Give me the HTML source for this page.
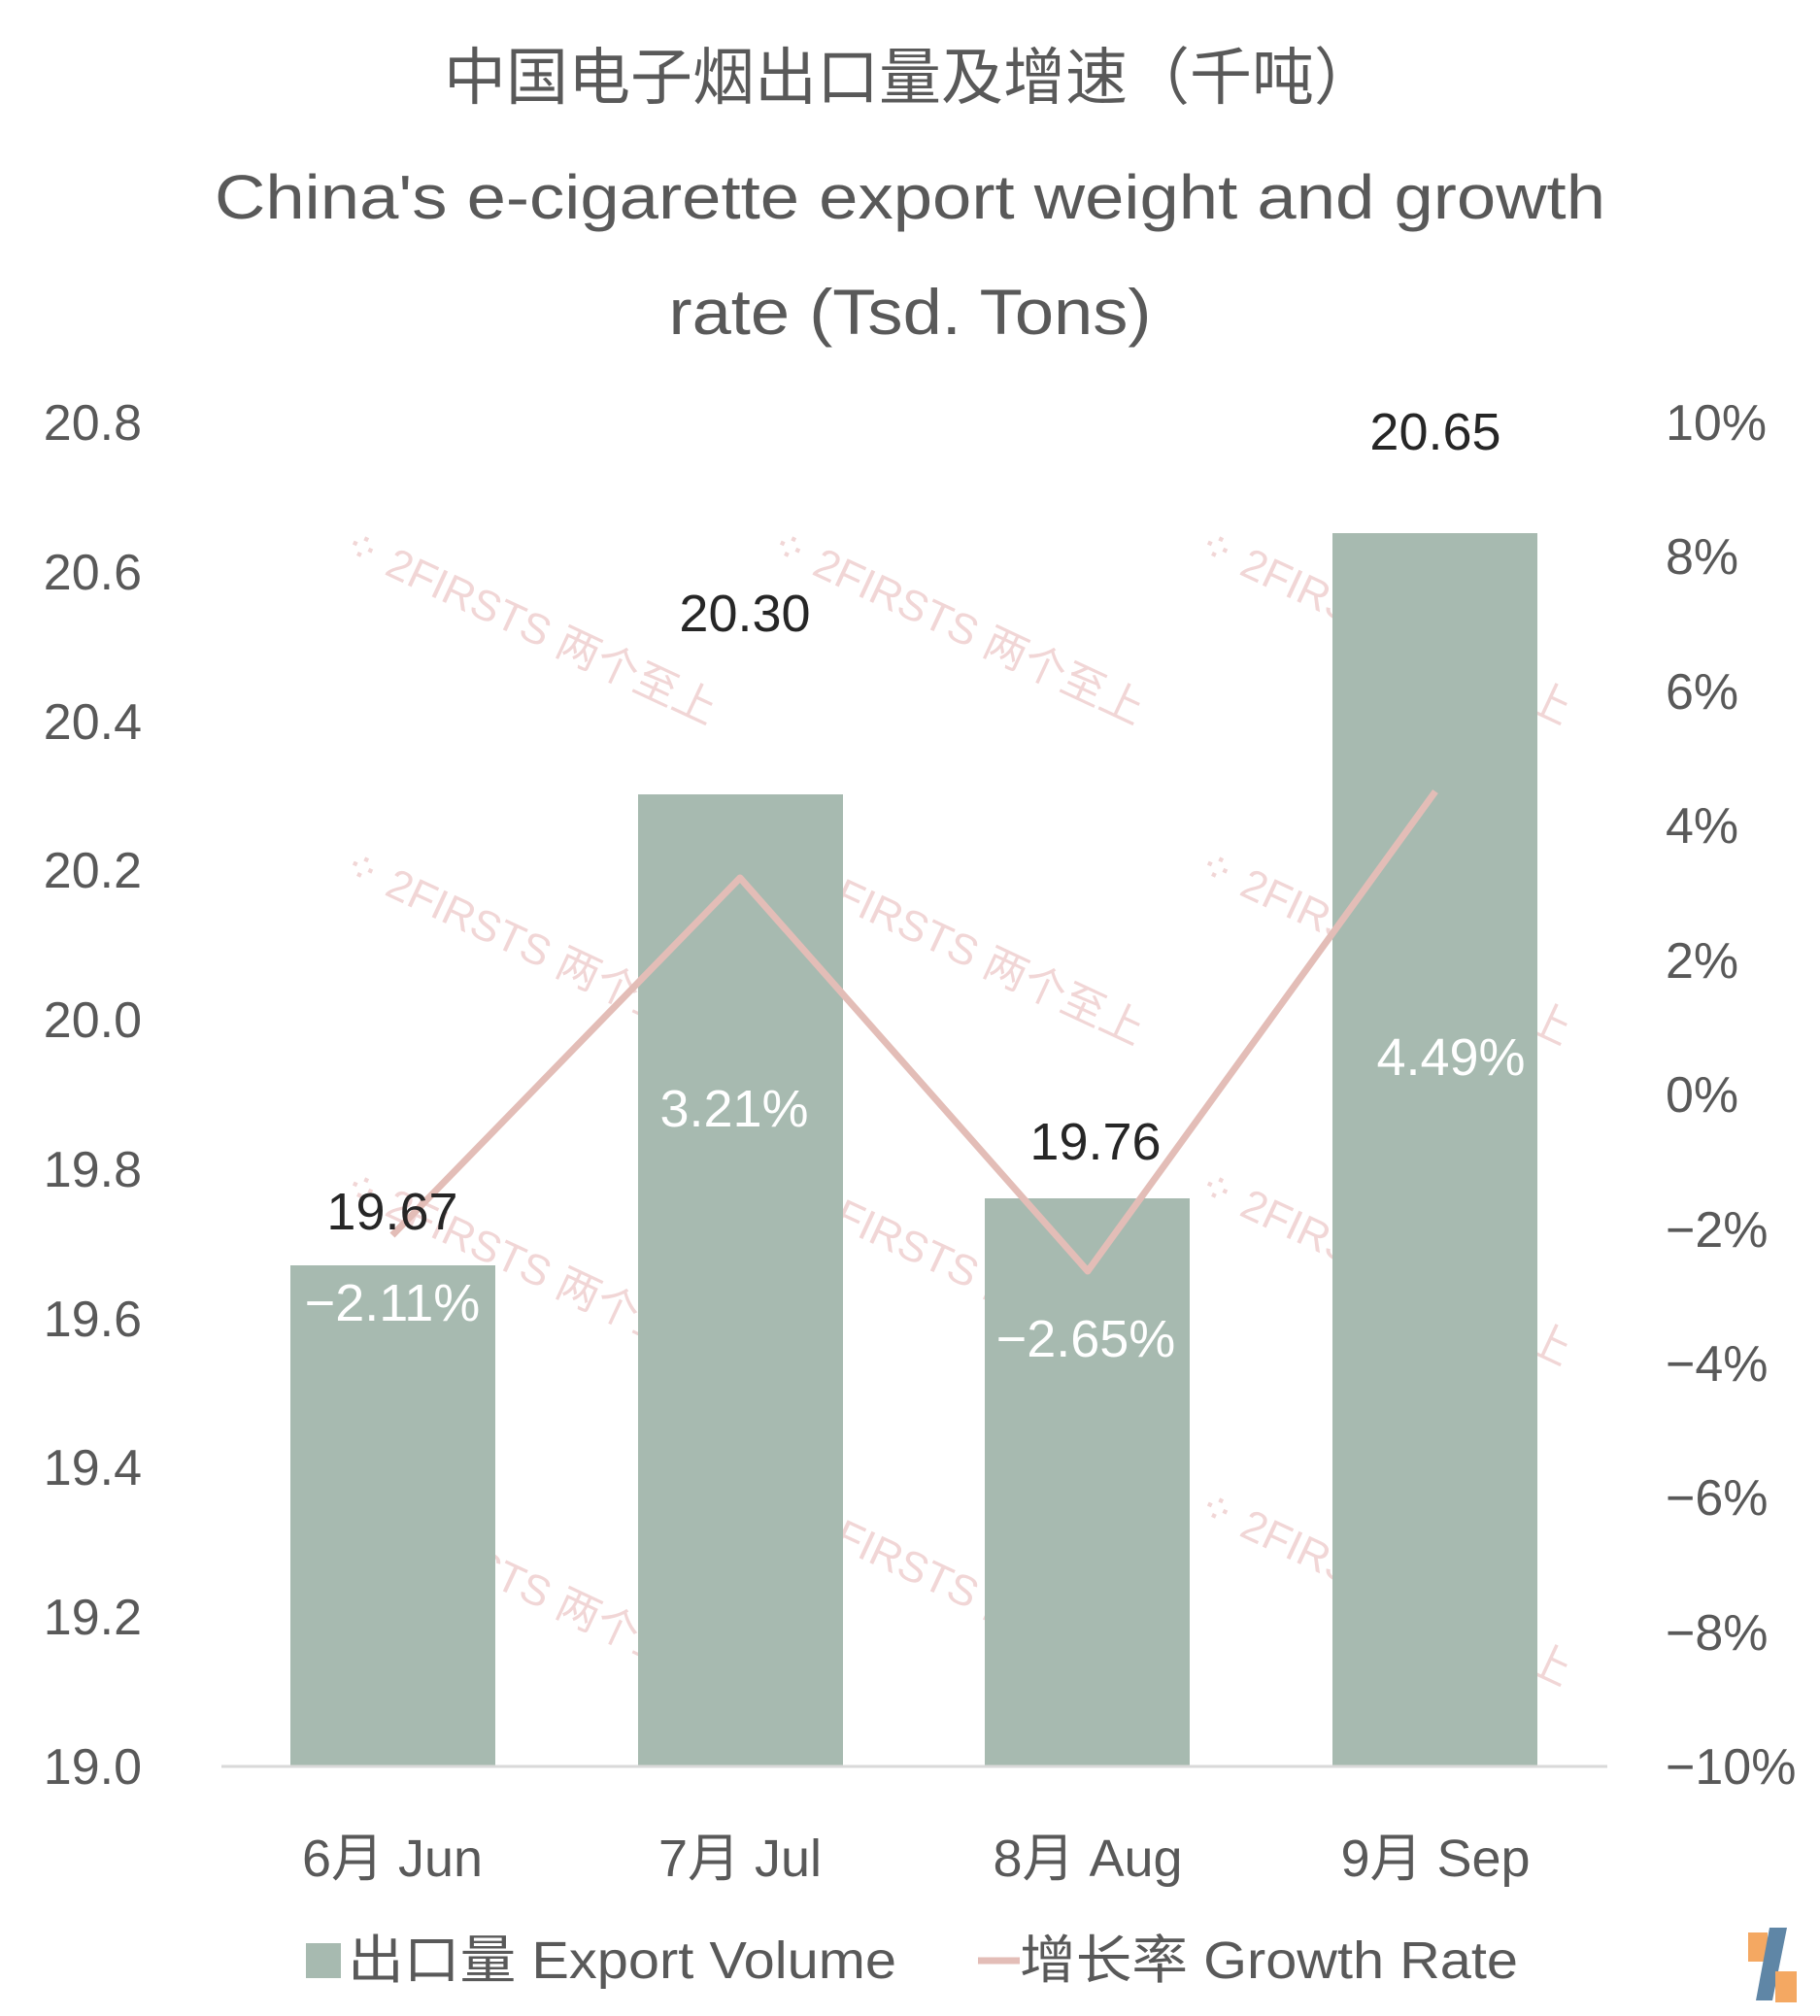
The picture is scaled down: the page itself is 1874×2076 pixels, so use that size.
<!DOCTYPE html>
<html><head><meta charset="utf-8"><style>
html,body{margin:0;padding:0;background:#fff;}
svg{display:block;}
text{font-family:"Liberation Sans","Noto Sans CJK SC",sans-serif;}
</style></head><body>
<svg width="1874" height="2076" viewBox="0 0 1874 2076" xmlns="http://www.w3.org/2000/svg">
<rect width="1874" height="2076" fill="#fff"/>
<g fill="#f0d2d2" font-size="44" opacity="0.9">
<g transform="translate(350,570) rotate(25)"><text x="0" y="0">⁘ 2FIRSTS 两个至上</text></g>
<g transform="translate(790,570) rotate(25)"><text x="0" y="0">⁘ 2FIRSTS 两个至上</text></g>
<g transform="translate(1230,570) rotate(25)"><text x="0" y="0">⁘ 2FIRSTS 两个至上</text></g>
<g transform="translate(350,900) rotate(25)"><text x="0" y="0">⁘ 2FIRSTS 两个至上</text></g>
<g transform="translate(790,900) rotate(25)"><text x="0" y="0">⁘ 2FIRSTS 两个至上</text></g>
<g transform="translate(1230,900) rotate(25)"><text x="0" y="0">⁘ 2FIRSTS 两个至上</text></g>
<g transform="translate(350,1230) rotate(25)"><text x="0" y="0">⁘ 2FIRSTS 两个至上</text></g>
<g transform="translate(790,1230) rotate(25)"><text x="0" y="0">⁘ 2FIRSTS 两个至上</text></g>
<g transform="translate(1230,1230) rotate(25)"><text x="0" y="0">⁘ 2FIRSTS 两个至上</text></g>
<g transform="translate(350,1560) rotate(25)"><text x="0" y="0">⁘ 2FIRSTS 两个至上</text></g>
<g transform="translate(790,1560) rotate(25)"><text x="0" y="0">⁘ 2FIRSTS 两个至上</text></g>
<g transform="translate(1230,1560) rotate(25)"><text x="0" y="0">⁘ 2FIRSTS 两个至上</text></g>
</g>
<g fill="#595959" text-anchor="middle">
<text x="937" y="102" font-size="64" textLength="960" lengthAdjust="spacingAndGlyphs">中国电子烟出口量及增速（千吨）</text>
<text x="937" y="225" font-size="64" textLength="1432" lengthAdjust="spacingAndGlyphs">China's e-cigarette export weight and growth</text>
<text x="937" y="344" font-size="66" textLength="497" lengthAdjust="spacingAndGlyphs">rate (Tsd. Tons)</text>
</g>
<g fill="#595959" font-size="52" text-anchor="end">
<text x="146" y="453">20.8</text>
<text x="146" y="607">20.6</text>
<text x="146" y="761">20.4</text>
<text x="146" y="914">20.2</text>
<text x="146" y="1068">20.0</text>
<text x="146" y="1222">19.8</text>
<text x="146" y="1376">19.6</text>
<text x="146" y="1529">19.4</text>
<text x="146" y="1683">19.2</text>
<text x="146" y="1837">19.0</text>
</g>
<g fill="#595959" font-size="52" text-anchor="start">
<text x="1715" y="453">10%</text>
<text x="1715" y="591">8%</text>
<text x="1715" y="730">6%</text>
<text x="1715" y="868">4%</text>
<text x="1715" y="1007">2%</text>
<text x="1715" y="1145">0%</text>
<text x="1715" y="1284">−2%</text>
<text x="1715" y="1422">−4%</text>
<text x="1715" y="1560">−6%</text>
<text x="1715" y="1699">−8%</text>
<text x="1715" y="1837">−10%</text>
</g>
<g fill="#a7bab0">
<rect x="299" y="1303" width="211" height="515"/>
<rect x="657" y="818" width="211" height="1000"/>
<rect x="1014" y="1234" width="211" height="584"/>
<rect x="1372" y="549" width="211" height="1269"/>
</g>
<line x1="228" y1="1819" x2="1655" y2="1819" stroke="#d9d9d9" stroke-width="3"/>
<polyline points="404,1272 762,904 1120,1309 1478,815" fill="none" stroke="#e3bdb7" stroke-width="7" stroke-linejoin="round"/>
<g fill="#262626" font-size="54" text-anchor="middle">
<text x="404" y="1266">19.67</text>
<text x="767" y="650">20.30</text>
<text x="1128" y="1194">19.76</text>
<text x="1478" y="463">20.65</text>
</g>
<g fill="#fff" font-size="54" text-anchor="middle">
<text x="404" y="1360">−2.11%</text>
<text x="756" y="1160">3.21%</text>
<text x="1118" y="1397">−2.65%</text>
<text x="1494" y="1107">4.49%</text>
</g>
<g fill="#595959" font-size="54" text-anchor="middle">
<text x="404" y="1932">6月 Jun</text>
<text x="762" y="1932">7月 Jul</text>
<text x="1120" y="1932">8月 Aug</text>
<text x="1478" y="1932">9月 Sep</text>
</g>
<rect x="315" y="2001" width="36" height="36" fill="#a7bab0"/>
<text x="358" y="2037" fill="#595959" font-size="54" textLength="565" lengthAdjust="spacingAndGlyphs">出口量 Export Volume</text>
<line x1="1007" y1="2019" x2="1050" y2="2019" stroke="#e3bdb7" stroke-width="7"/>
<text x="1050" y="2037" fill="#595959" font-size="54" textLength="513" lengthAdjust="spacingAndGlyphs">增长率 Growth Rate</text>
<rect x="1800" y="1990" width="20" height="30" fill="#f4a862"/>
<polygon points="1822,1985 1840,1985 1825,2060 1808,2060" fill="#5f86a6"/>
<rect x="1828" y="2030" width="22" height="32" fill="#f4a862"/>
</svg>
</body></html>
